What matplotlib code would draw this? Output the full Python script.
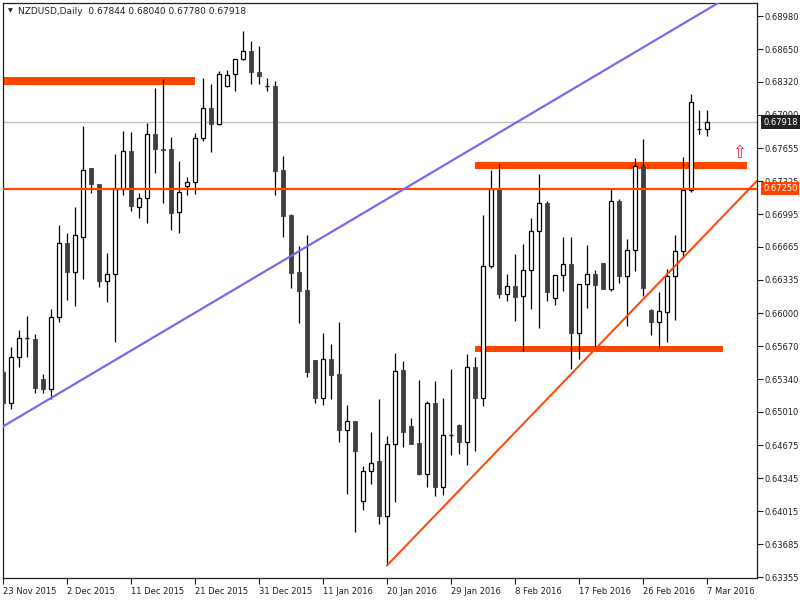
#!/usr/bin/env python3

import matplotlib
matplotlib.use('Agg')
from matplotlib import pyplot as plt
from matplotlib.patches import Rectangle
import matplotlib.transforms as mtransforms

# Daily NZDUSD bars, index 0 = 23 Nov 2015
opens = [0.65411, 0.65097, 0.65565, 0.65749, 0.65739, 0.65338, 0.65238, 0.65960, 0.66702, 0.66417,
         0.66768, 0.67454, 0.67294, 0.66327, 0.66391, 0.67244, 0.67625, 0.67069, 0.67153, 0.67795,
         0.67651, 0.67645, 0.67013, 0.67274, 0.67320, 0.67755, 0.68056, 0.67896, 0.68277, 0.68397,
         0.68547, 0.68628, 0.68415, 0.68279, 0.68279, 0.67433, 0.66986, 0.66413, 0.66234, 0.65532,
         0.65155, 0.65539, 0.65388, 0.64833, 0.64916, 0.64113, 0.64414, 0.64514, 0.63963, 0.64686,
         0.65427, 0.64866, 0.64697, 0.64392, 0.65098, 0.64257, 0.64783, 0.64880, 0.64711, 0.65460,
         0.65155, 0.66470, 0.67244, 0.66190, 0.66271, 0.66170, 0.66431, 0.66822, 0.67103, 0.66150,
         0.66381, 0.66491, 0.65799, 0.66291, 0.66391, 0.66501, 0.66241, 0.67123, 0.66371, 0.66632,
         0.67474, 0.66036, 0.65910, 0.66010, 0.66371, 0.66622, 0.67234, 0.67855, 0.67844]
highs = [0.65431, 0.65659, 0.65832, 0.65973, 0.65792, 0.65391, 0.66040, 0.66886, 0.66802, 0.67063,
         0.67879, 0.67460, 0.67300, 0.66602, 0.67595, 0.67828, 0.67818, 0.67207, 0.67906, 0.68257,
         0.68347, 0.67768, 0.67527, 0.67367, 0.67805, 0.68357, 0.68300, 0.68430, 0.68440, 0.68555,
         0.68831, 0.68734, 0.68680, 0.68361, 0.68333, 0.67578, 0.66993, 0.66675, 0.66785, 0.65535,
         0.65803, 0.65693, 0.65912, 0.65080, 0.64920, 0.64468, 0.64808, 0.65141, 0.64768, 0.65600,
         0.65520, 0.64951, 0.65331, 0.65119, 0.65320, 0.65151, 0.65442, 0.64894, 0.65593, 0.65557,
         0.66986, 0.67437, 0.67497, 0.66394, 0.66595, 0.66695, 0.66953, 0.67397, 0.67123, 0.66385,
         0.66765, 0.66765, 0.66295, 0.66688, 0.66431, 0.66501, 0.67254, 0.67146, 0.66742, 0.67555,
         0.67745, 0.66046, 0.66214, 0.66441, 0.66785, 0.67565, 0.68196, 0.68039, 0.68040]
lows = [0.65070, 0.65037, 0.65464, 0.65565, 0.65204, 0.65204, 0.65137, 0.65916, 0.66133, 0.66073,
        0.66344, 0.67210, 0.66267, 0.66116, 0.65715, 0.67186, 0.67029, 0.66959, 0.66909, 0.67410,
        0.67109, 0.66835, 0.66808, 0.67189, 0.67200, 0.67731, 0.67621, 0.67890, 0.68270, 0.68233,
        0.68540, 0.68304, 0.68304, 0.68233, 0.67186, 0.66767, 0.66255, 0.65904, 0.65360, 0.65101,
        0.65080, 0.65144, 0.64708, 0.64188, 0.63808, 0.64023, 0.64292, 0.63891, 0.63471, 0.64106,
        0.64661, 0.64690, 0.64382, 0.64257, 0.64170, 0.64177, 0.64583, 0.64590, 0.64482, 0.64618,
        0.65066, 0.66452, 0.66154, 0.66126, 0.65926, 0.65625, 0.66046, 0.65855, 0.66120, 0.66080,
        0.66227, 0.65444, 0.65539, 0.66056, 0.65659, 0.66241, 0.66221, 0.66301, 0.65869, 0.66421,
        0.66170, 0.65779, 0.65649, 0.65709, 0.65930, 0.66552, 0.67214, 0.67795, 0.67780]
closes = [0.65100, 0.65565, 0.65749, 0.65752, 0.65254, 0.65238, 0.65960, 0.66702, 0.66417, 0.66782,
          0.67434, 0.67294, 0.66327, 0.66391, 0.67244, 0.67625, 0.67079, 0.67153, 0.67795, 0.67651,
          0.67641, 0.67003, 0.67220, 0.67320, 0.67755, 0.68056, 0.67896, 0.68397, 0.68387, 0.68547,
          0.68628, 0.68415, 0.68376, 0.68274, 0.67430, 0.66979, 0.66409, 0.66227, 0.65413, 0.65155,
          0.65539, 0.65385, 0.64833, 0.64916, 0.64615, 0.64414, 0.64503, 0.63963, 0.64686, 0.65417,
          0.64811, 0.64693, 0.64389, 0.65098, 0.64257, 0.64775, 0.64785, 0.64711, 0.65460, 0.65155,
          0.66470, 0.67244, 0.66198, 0.66271, 0.66160, 0.66431, 0.66822, 0.67103, 0.66211, 0.66381,
          0.66491, 0.65799, 0.66291, 0.66391, 0.66281, 0.66241, 0.67123, 0.66371, 0.66632, 0.67474,
          0.66251, 0.65910, 0.66020, 0.66371, 0.66622, 0.67234, 0.68116, 0.67850, 0.67918]

date_labels = ['23 Nov 2015', '2 Dec 2015', '11 Dec 2015', '21 Dec 2015', '31 Dec 2015',
               '11 Jan 2016', '20 Jan 2016', '29 Jan 2016', '8 Feb 2016', '17 Feb 2016',
               '26 Feb 2016', '7 Mar 2016']
date_bars = [0, 8, 16, 24, 32, 40, 48, 56, 64, 72, 80, 88]

price_ticks = [0.68980, 0.68650, 0.68320, 0.67990, 0.67655, 0.67325, 0.66995, 0.66665, 0.66335,
               0.66000, 0.65670, 0.65340, 0.65010, 0.64675, 0.64345, 0.64015, 0.63685, 0.63355]

# drawn objects
zone_start = [-1, 59, 59]
zone_end = [24, 93, 90]
zone_low = [0.68290, 0.67450, 0.65615]
zone_high = [0.68367, 0.67517, 0.65672]
level = 0.67250
bid = 0.67918
purple_bars = [0, 88]
purple_prices = [0.64865, 0.69046]
support_bars = [48, 88]
support_prices = [0.63471, 0.66807]
arrow_bar = 92
arrow_price = 0.67605

bull_edge = 'black'
bear_fill = '#3f3f3f'
orange = '#FF4500'
fs = 6

fig = plt.figure(figsize=(8, 6), dpi=100)
ax = fig.add_axes([3/800, 22/600, 754/800, 575/600])
ax.set_xlim(0, 94.25)
ax.set_ylim(0.63345, 0.69112)

# candles
w = 0.6
for i in range(len(opens)):
	o, h, l, c = opens[i], highs[i], lows[i], closes[i]
	ax.vlines(i, l, h, color='black', lw=0.9, zorder=2)
	if abs(c - o) < 0.00008:
		ax.hlines((o + c) / 2, i - w/2, i + w/2, color='black', lw=1.0, zorder=3)
	elif c > o:
		ax.add_patch(Rectangle((i - w/2, o), w, c - o, fc='white', ec=bull_edge, lw=0.9, zorder=3))
	else:
		ax.add_patch(Rectangle((i - w/2, c), w, o - c, fc=bear_fill, ec=bear_fill, lw=0.6, zorder=3))

# zones
for s, e, lo, hi in zip(zone_start, zone_end, zone_low, zone_high):
	ax.add_patch(Rectangle((s, lo), e - s, hi - lo, fc=orange, ec='none', zorder=1))

ax.axhline(bid, color='#C0C0C0', lw=1.0, zorder=0.5)
ax.axhline(level, color=orange, lw=1.6, zorder=4)
ax.axline((purple_bars[0], purple_prices[0]), (purple_bars[1], purple_prices[1]),
          color='#7B68EE', lw=1.6, zorder=4)

slope = (support_prices[1] - support_prices[0]) / (support_bars[1] - support_bars[0])
x_end = 95
ax.plot([support_bars[0], x_end], [support_prices[0], support_prices[0] + slope * (x_end - support_bars[0])],
        color=orange, lw=1.4, zorder=4)

ax.text(arrow_bar, arrow_price, '\u21e7', color='#ff2040', fontsize=12, ha='center', va='center', zorder=5)

# axes look
for sp in ax.spines.values():
	sp.set_linewidth(0.9)
	sp.set_color('#202020')

ax.yaxis.tick_right()
ax.set_yticks(price_ticks, labels=['%.5f' % v for v in price_ticks])
ax.set_xticks(date_bars, labels=date_labels)
for lbl in ax.get_xticklabels():
	lbl.set_horizontalalignment('left')
ax.tick_params(axis='y', length=4, width=0.8, pad=1.5, labelsize=fs, colors='#202020')
ax.tick_params(axis='x', length=4, width=0.8, pad=2.5, labelsize=fs, colors='#202020')

trans = mtransforms.blended_transform_factory(ax.transAxes, ax.transData)
ax.text(1 + 6/754, bid, '%.5f' % bid, transform=trans, ha='left', va='center', fontsize=fs,
        color='white', bbox=dict(boxstyle='square,pad=0.25', fc='#222222', ec='none'), clip_on=False, zorder=6)
ax.text(1 + 6/754, level, '%.5f' % level, transform=trans, ha='left', va='center', fontsize=fs,
        color='white', bbox=dict(boxstyle='square,pad=0.25', fc=orange, ec='none'), clip_on=False, zorder=6)

# header
fig.text(10/800, 1 - 11/600, '\u25bc', fontsize=4.5, ha='center', va='center', color='#202020')
fig.text(18/800, 1 - 11/600, 'NZDUSD,Daily  %.5f %.5f %.5f %.5f' % (opens[-1], highs[-1], lows[-1], closes[-1]),
         fontsize=6.5, ha='left', va='center', color='#202020')

fig.savefig('out.png', dpi=100)
